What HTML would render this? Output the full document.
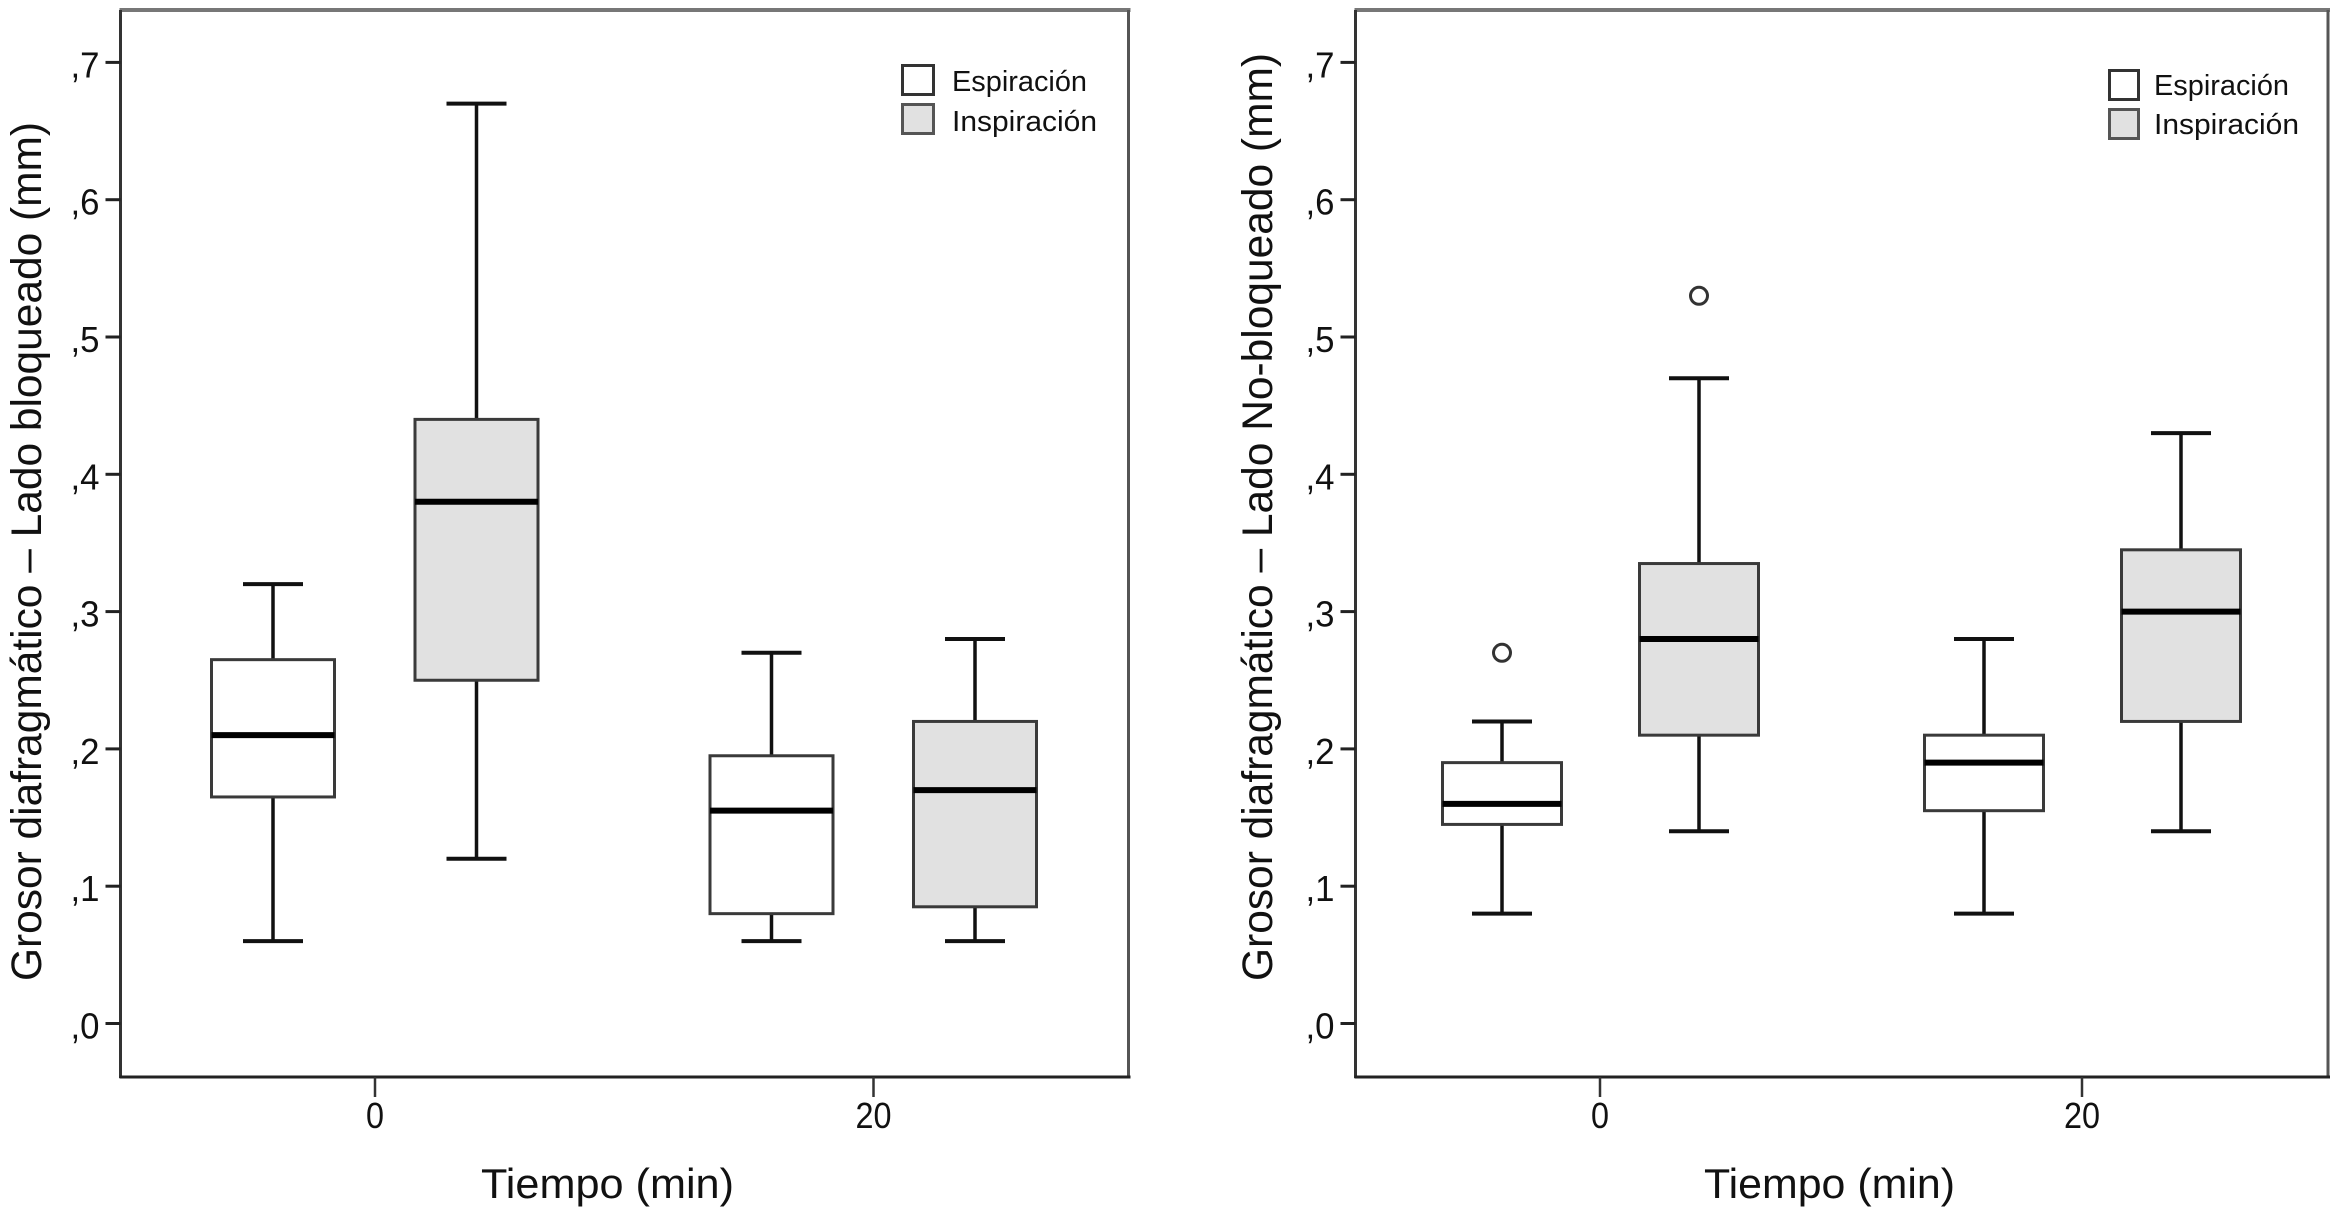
<!DOCTYPE html>
<html lang="es">
<head>
<meta charset="utf-8">
<title>Grosor diafragmático</title>
<style>
html,body{margin:0;padding:0;background:#fff;width:2341px;height:1216px;overflow:hidden}
svg{display:block}
text{font-family:"Liberation Sans",sans-serif;fill:#111}
</style>
</head>
<body>
<svg id="chart" width="2341" height="1216" viewBox="0 0 2341 1216" xmlns="http://www.w3.org/2000/svg">
  <rect width="2341" height="1216" fill="#fff"/>

  <g id="panel-left">
    <text transform="translate(41,981) rotate(-90)" font-size="43" textLength="859" lengthAdjust="spacingAndGlyphs">Grosor diafragmático – Lado bloqueado (mm)</text>
    <text x="481" y="1198" font-size="42" textLength="253" lengthAdjust="spacingAndGlyphs">Tiempo (min)</text>
    <g>
      <rect x="902.5" y="65.5" width="31" height="29" fill="#fff" stroke="#333" stroke-width="3"/>
      <rect x="902.5" y="104.5" width="31" height="29" fill="#e1e1e1" stroke="#555" stroke-width="3"/>
      <text x="952" y="91" font-size="29" textLength="135" lengthAdjust="spacingAndGlyphs">Espiración</text>
      <text x="952" y="131" font-size="29" textLength="145" lengthAdjust="spacingAndGlyphs">Inspiración</text>
    </g>
  </g>

  <g id="panel-right">
    <text transform="translate(1272,981) rotate(-90)" font-size="43" textLength="928" lengthAdjust="spacingAndGlyphs">Grosor diafragmático – Lado No-bloqueado (mm)</text>
    <text x="1704" y="1198" font-size="42" textLength="251" lengthAdjust="spacingAndGlyphs">Tiempo (min)</text>
    <g>
      <rect x="2109.5" y="70.5" width="29" height="29" fill="#fff" stroke="#333" stroke-width="3"/>
      <rect x="2109.5" y="109.5" width="29" height="29" fill="#e1e1e1" stroke="#555" stroke-width="3"/>
      <text x="2154" y="95" font-size="29" textLength="135" lengthAdjust="spacingAndGlyphs">Espiración</text>
      <text x="2154" y="134" font-size="29" textLength="145" lengthAdjust="spacingAndGlyphs">Inspiración</text>
    </g>
  </g>
</svg>

<script>
// Shared axis data
const yTickValues = [0, 0.1, 0.2, 0.3, 0.4, 0.5, 0.6, 0.7];
const yTickLabels = [",0", ",1", ",2", ",3", ",4", ",5", ",6", ",7"];
const timeCategories = ["0", "20"];
const seriesNames = ["Espiración", "Inspiración"];

// Left panel: [time 0, time 20] for each statistic
const leftEspLow = [0.06, 0.06];
const leftEspQ1 = [0.165, 0.08];
const leftEspMedian = [0.21, 0.155];
const leftEspQ3 = [0.265, 0.195];
const leftEspHigh = [0.32, 0.27];
const leftInsLow = [0.12, 0.06];
const leftInsQ1 = [0.25, 0.085];
const leftInsMedian = [0.38, 0.17];
const leftInsQ3 = [0.44, 0.22];
const leftInsHigh = [0.67, 0.28];

// Right panel
const rightEspLow = [0.08, 0.08];
const rightEspQ1 = [0.145, 0.155];
const rightEspMedian = [0.16, 0.19];
const rightEspQ3 = [0.19, 0.21];
const rightEspHigh = [0.22, 0.28];
const rightEspOutliers = [[0.27], []];
const rightInsLow = [0.14, 0.14];
const rightInsQ1 = [0.21, 0.22];
const rightInsMedian = [0.28, 0.30];
const rightInsQ3 = [0.335, 0.345];
const rightInsHigh = [0.47, 0.43];
const rightInsOutliers = [[0.53], []];

const NS = "http://www.w3.org/2000/svg";

function yScale(v) {
  return 1023.5 - v * 1373;
}

function shape(parent, tag, attrs) {
  const el = document.createElementNS(NS, tag);
  for (const k in attrs) el.setAttribute(k, attrs[k]);
  parent.appendChild(el);
  return el;
}

function drawFrame(g, prefix, L, R) {
  const top = 10, bottom = 1077;
  const bg = shape(g, "rect", {x: L, y: top, width: R - L, height: bottom - top, fill: "#fff"});
  
  
  const topLine = shape(g, "line", {x1: L - 1, x2: R + 2, y1: top, y2: top, stroke: "#777", "stroke-width": 4});
  
  
  const rightLine = shape(g, "line", {x1: R, x2: R, y1: top, y2: bottom, stroke: "#555", "stroke-width": 3});
  
  
  const leftLine = shape(g, "line", {x1: L, x2: L, y1: top, y2: bottom + 1, stroke: "#333", "stroke-width": 3});
  
  
  const bottomLine = shape(g, "line", {x1: L - 1, x2: R + 2, y1: bottom, y2: bottom, stroke: "#222", "stroke-width": 3});
  
  
}

function drawYAxis(g, prefix, L) {
  yTickValues.forEach(function (v, i) {
    const y = yScale(v);
    const tick = shape(g, "line", {x1: L - 15, x2: L, y1: y, y2: y, stroke: "#222", "stroke-width": 3});
    
    
    const label = shape(g, "text", {x: L - 50, y: y + 15, "font-size": 36, textLength: 29, lengthAdjust: "spacingAndGlyphs", fill: "#222"});
    label.textContent = yTickLabels[i];
    
    
  });
}

function drawXAxis(g, prefix, xPos) {
  timeCategories.forEach(function (c, i) {
    const x = xPos(i);
    const tick = shape(g, "line", {x1: x, x2: x, y1: 1077, y2: 1097, stroke: "#333", "stroke-width": 2.5});
    
    
    const w = c.length * 18;
    const label = shape(g, "text", {x: x, y: 1128, "font-size": 36, "text-anchor": "middle", textLength: w, lengthAdjust: "spacingAndGlyphs", fill: "#222"});
    label.textContent = c;
    
    
  });
}

function drawBoxes(g, prefix, seriesKey, xPos, offset, boxW, fill, low, q1, med, q3, high, outliers) {
  timeCategories.forEach(function (c, i) {
    const cx = xPos(i) + offset;
    const group = shape(g, "g", {});
    
    

    const whiskerUp = shape(group, "line", {x1: cx, x2: cx, y1: yScale(high[i]), y2: yScale(q3[i]), stroke: "#111", "stroke-width": 3.5});
    
    
    const whiskerDown = shape(group, "line", {x1: cx, x2: cx, y1: yScale(q1[i]), y2: yScale(low[i]), stroke: "#111", "stroke-width": 3.5});
    
    
    const capUp = shape(group, "line", {x1: cx - 30, x2: cx + 30, y1: yScale(high[i]), y2: yScale(high[i]), stroke: "#111", "stroke-width": 4});
    
    
    const capDown = shape(group, "line", {x1: cx - 30, x2: cx + 30, y1: yScale(low[i]), y2: yScale(low[i]), stroke: "#111", "stroke-width": 4});
    
    

    const box = shape(group, "rect", {x: cx - boxW / 2, y: yScale(q3[i]), width: boxW, height: yScale(q1[i]) - yScale(q3[i]), fill: fill, stroke: "#3a3a3a", "stroke-width": 3});
    
    
    const median = shape(group, "line", {x1: cx - boxW / 2, x2: cx + boxW / 2, y1: yScale(med[i]), y2: yScale(med[i]), stroke: "#000", "stroke-width": 6});
    
    

    if (outliers) {
      outliers[i].forEach(function (v) {
        const dot = shape(group, "circle", {cx: cx, cy: yScale(v), r: 8.5, fill: "#fff", stroke: "#333", "stroke-width": 3});
        
        
      });
    }
  });
}

function xLeft(i) { return 375 + i * 498.5; }
function xRight(i) { return 1600 + i * 482; }

const gLeft = document.getElementById("panel-left");
const gRight = document.getElementById("panel-right");

function prependLayer(g) {
  const layer = document.createElementNS(NS, "g");
  g.insertBefore(layer, g.firstChild);
  return layer;
}

const frameLeft = prependLayer(gLeft);


drawFrame(frameLeft, "left", 120.5, 1128.5);
drawYAxis(frameLeft, "left", 120.5);
drawXAxis(frameLeft, "left", xLeft);
drawBoxes(gLeft, "left", "espiracion", xLeft, -102, 123, "#fff", leftEspLow, leftEspQ1, leftEspMedian, leftEspQ3, leftEspHigh, null);
drawBoxes(gLeft, "left", "inspiracion", xLeft, 101.5, 123, "#e1e1e1", leftInsLow, leftInsQ1, leftInsMedian, leftInsQ3, leftInsHigh, null);

const frameRight = prependLayer(gRight);


drawFrame(frameRight, "right", 1355.5, 2328);
drawYAxis(frameRight, "right", 1355.5);
drawXAxis(frameRight, "right", xRight);
drawBoxes(gRight, "right", "espiracion", xRight, -98, 119, "#fff", rightEspLow, rightEspQ1, rightEspMedian, rightEspQ3, rightEspHigh, rightEspOutliers);
drawBoxes(gRight, "right", "inspiracion", xRight, 99, 119, "#e1e1e1", rightInsLow, rightInsQ1, rightInsMedian, rightInsQ3, rightInsHigh, rightInsOutliers);
</script>
</body>
</html>
